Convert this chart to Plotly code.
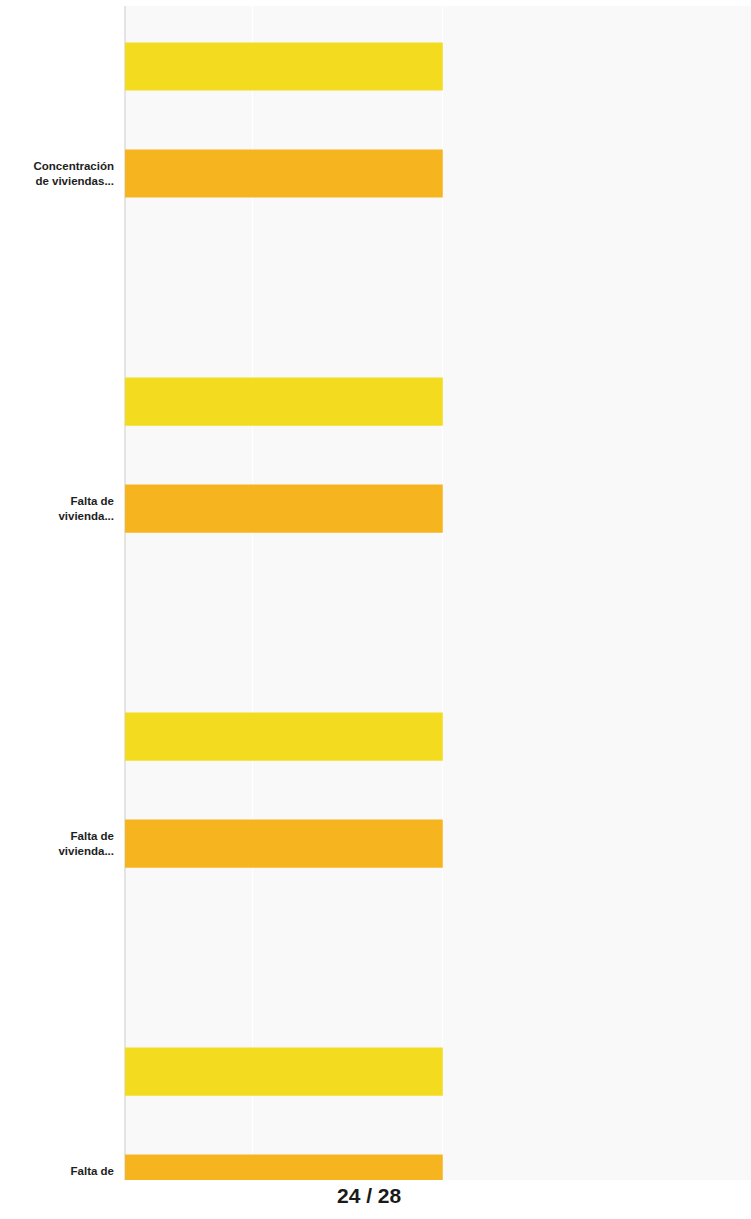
import plotly.graph_objects as go

# categories (positions 0..3, the last one is cut off by the page edge)
positions = [0, 1, 2, 3]
tick_labels = [
    "Concentración<br>de viviendas...",
    "Falta de<br>vivienda...",
    "Falta de<br>vivienda...",
    "Falta de<br>vivienda...",
]

# series values
serie_amarilla = [1, 1, 1, 1]
serie_naranja = [1, 1, 1, 1]
serie_tercera = [0, 0, 0, 0]

fig = go.Figure()

fig.add_trace(go.Bar(
    y=positions, x=serie_amarilla, orientation='h',
    marker=dict(color='#f3dc1f', line=dict(width=0)),
    name='Serie 1'
))
fig.add_trace(go.Bar(
    y=positions, x=serie_naranja, orientation='h',
    marker=dict(color='#f6b51f', line=dict(width=0)),
    name='Serie 2'
))
fig.add_trace(go.Bar(
    y=positions, x=serie_tercera, orientation='h',
    marker=dict(color='#e8710a', line=dict(width=0)),
    name='Serie 3'
))

fig.update_layout(
    width=751, height=1219,
    margin=dict(l=125, r=0, t=6, b=39, pad=0),
    barmode='group',
    bargap=0.042,
    bargroupgap=0.55,
    showlegend=False,
    paper_bgcolor='#ffffff',
    plot_bgcolor='#f9f9f9',
    font=dict(family='Liberation Sans, Arial, sans-serif', color='#222222'),
    xaxis=dict(
        range=[0, 1.97],
        tickvals=[0.4, 1.0],
        showticklabels=False,
        showgrid=True, gridcolor='#ffffff', gridwidth=1,
        zeroline=True, zerolinecolor='#e4e4e4', zerolinewidth=2,
        fixedrange=True,
    ),
    yaxis=dict(
        range=[3.004, -0.5],
        tickvals=positions,
        ticktext=['<b>' + t + '</b>' for t in tick_labels],
        tickfont=dict(size=11.5, color='#1e1e1e'),
        ticks='', ticklabelstandoff=10,
        showgrid=False, zeroline=False,
        automargin=False, fixedrange=True,
    ),
    shapes=[dict(
        type='rect', xref='paper', yref='paper',
        x0=-0.3, x1=1.01, y0=-0.04, y1=-0.0005,
        fillcolor='#ffffff', line=dict(width=0), layer='above'
    )],
    annotations=[dict(
        text='<b>24 / 28</b>', xref='paper', yref='paper',
        x=0.391, y=-0.0136, xanchor='center', yanchor='middle',
        showarrow=False, font=dict(size=21, color='#1a1a1a')
    )],
)

fig.write_html("out.html", config={'displayModeBar': False},
               post_script="document.body.style.margin='0';")
